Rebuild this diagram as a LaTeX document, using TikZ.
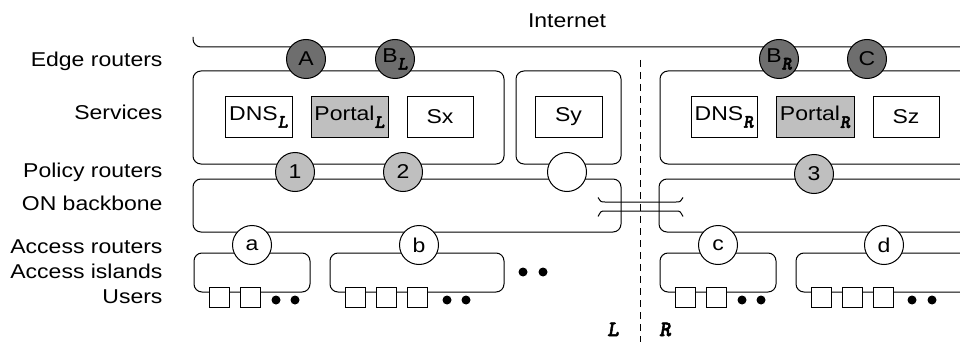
\documentclass[tikz,border=0pt]{standalone}
\usepackage{fontspec}
\setmainfont{Liberation Sans}[FakeStretch=1.15]
\newfontfamily\cour{lmmonolt10-boldoblique}[Extension=.otf,FakeBold=2.5]
\newcommand{\side}[1]{{\cour #1}}
\newcommand{\lowsub}[1]{\raisebox{-7.5pt}{\fontsize{19}{19}\selectfont\side{#1}}}
\begin{document}
\begin{tikzpicture}[x=1pt,y=-1pt,line width=1pt,font=\fontsize{20}{24}\selectfont,
edgert/.style={circle,draw,fill=black!57,minimum size=39pt,inner sep=0pt},
policyrt/.style={circle,draw,fill=black!25,minimum size=39pt,inner sep=0pt},
accessrt/.style={circle,draw,fill=white,minimum size=39pt,inner sep=0pt},
svc/.style={rectangle,draw,fill=white,minimum height=40pt,inner sep=0pt},
user/.style={rectangle,draw,fill=white,minimum size=20pt,inner sep=0pt},
dot/.style={circle,fill=black,minimum size=9pt,inner sep=0pt},
layer/.style={anchor=base east,inner sep=0pt},
region/.style={rounded corners=8pt}]
\useasboundingbox (0,0) rectangle (960,342);

% layer names
\node[layer](l-edge) at (163,67){Edge routers};
\node[layer](l-svc) at (163,120){Services};
\node[layer](l-pol) at (163,177){Policy routers};
\node[layer](l-bb) at (163,210){ON backbone};
\node[layer](l-acc) at (163,253){Access routers};
\node[layer](l-isl) at (163,278){Access islands};
\node[layer](l-usr) at (163,303){Users};
\node[anchor=base,inner sep=0pt](inet) at (567,28){Internet};

% regions
\draw[region] (193,37) -- (193,47) -- (960,47);
\draw[region] (193,71) rectangle (504,164);
\draw[region] (516,71) rectangle (621,164);
\draw[region] (960,71) -- (660,71) -- (660,164) -- (960,164);
\draw[region] (193,179) rectangle (621,232);
\draw[region] (960,179) -- (659,179) -- (659,232) -- (960,232);
\draw[region] (194,253) rectangle (310,292);
\draw[region] (330,253) rectangle (504,292);
\draw[region] (660,253) rectangle (776,292);
\draw[region] (960,253) -- (796,253) -- (796,292) -- (960,292);

% break between L and R backbones
\draw (598,197.5) .. controls (601,202) .. (605,202) -- (676,202) .. controls (680,202) .. (683,197.5);
\draw (598,216.5) .. controls (601,211) .. (605,211) -- (676,211) .. controls (680,211) .. (683,216.5);

% L / R divide
\coordinate (div-top) at (640,60);
\coordinate (div-bot) at (640,342);
\draw[dash pattern=on 7pt off 5pt] (div-top) -- (div-bot);
\node[anchor=base,inner sep=0pt](side-L) at (613,336){\fontsize{22}{22}\selectfont\side{L}};
\node[anchor=base,inner sep=0pt](side-R) at (665,336){\fontsize{22}{22}\selectfont\side{R}};

% edge routers
\node[edgert](A) at (306,59){A};
\node[edgert](BL) at (395,59){B\lowsub{L}};
\node[edgert](BR) at (779,59){B\lowsub{R}};
\node[edgert](C) at (867,59){C};

% services
\node[svc,minimum width=67pt](dnsL) at (258.5,117){DNS\lowsub{L}};
\node[svc,minimum width=77pt,fill=black!25](portalL) at (349.5,117){Portal\lowsub{L}};
\node[svc,minimum width=66pt](sx) at (440,117){Sx};
\node[svc,minimum width=67pt](sy) at (568.5,117){Sy};
\node[svc,minimum width=66pt](dnsR) at (724,117){DNS\lowsub{R}};
\node[svc,minimum width=78pt,fill=black!25](portalR) at (815,117){Portal\lowsub{R}};
\node[svc,minimum width=66pt](sz) at (906,117){Sz};

% policy routers
\node[policyrt](p1) at (295,172){1};
\node[policyrt](p2) at (403,172){2};
\node[accessrt](py) at (567,172){};
\node[policyrt](p3) at (814,174){3};

% access routers
\node[accessrt](a) at (252,245){a};
\node[accessrt](b) at (419,245){b};
\node[accessrt](c) at (718,245){c};
\node[accessrt](d) at (884,245){d};

% users
\foreach \x/\n in {219/a1,250/a2,355/b1,386/b2,417/b3,685/c1,716/c2,821/d1,852/d2,883/d3}
  \node[user](u-\n) at (\x,297.5){};
\foreach \x/\n in {276/a1,295/a2,447/b1,466/b2,742/c1,761/c2,912/d1,932/d2}
  \node[dot](dot-\n) at (\x,300){};
\node[dot](more1) at (523,272){};
\node[dot](more2) at (543,272){};
\end{tikzpicture}
\end{document}
